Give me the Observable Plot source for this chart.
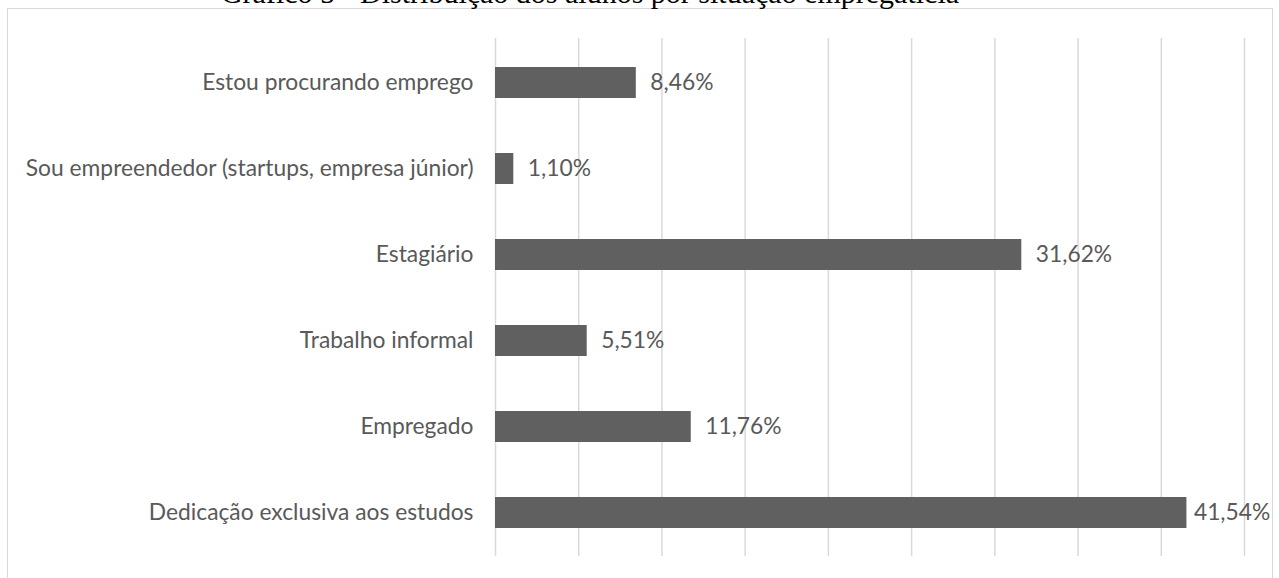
<!DOCTYPE html>
<html>
<head>
<meta charset="utf-8">
<script src="https://cdn.jsdelivr.net/npm/d3@7"></script>
<script src="https://cdn.jsdelivr.net/npm/@observablehq/plot@0.6"></script>
<style>
  html, body { margin: 0; padding: 0; background: #fff; }
  #wrap { position: relative; width: 1279px; height: 578px; overflow: hidden; }
  #frame { position: absolute; left: 7px; top: 8px; width: 1266px; height: 600px; border: 1.5px solid #d9d9d9; box-sizing: border-box; }
  #title { position: absolute; left: 0; width: 1180px; text-align: center; top: -22px; font-family: "Liberation Serif", serif; font-size: 30px; line-height: 30px; color: #000; white-space: nowrap; }
  #chart { position: absolute; left: 0; top: 0; }
</style>
</head>
<body>
<div id="wrap">
  <div id="frame"></div>
  <div id="title">Gráfico 5 - Distribuição dos alunos por situação empregatícia</div>
  <div id="chart"></div>
</div>
<script>
const categories = [
  "Estou procurando emprego",
  "Sou empreendedor (startups, empresa júnior)",
  "Estagiário",
  "Trabalho informal",
  "Empregado",
  "Dedicação exclusiva aos estudos"
];
const values = [8.46, 1.10, 31.62, 5.51, 11.76, 41.54];
const valueLabels = ["8,46%", "1,10%", "31,62%", "5,51%", "11,76%", "41,54%"];
const xTicks = [0, 5, 10, 15, 20, 25, 30, 35, 40, 45];

const data = categories.map((c, i) => ({cat: c, v: values[i], label: valueLabels[i]}));
const xMax = 45;

const font = "Lato, 'Open Sans', sans-serif";
const fs = 22.8;
const chart = Plot.plot({
  width: 1279,
  height: 578,
  marginLeft: 495,
  marginRight: 35,
  marginTop: 38,
  marginBottom: 22,
  style: { fontFamily: font, fontSize: fs + "px", color: "#595959", background: "transparent" },
  x: { domain: [0, xMax], axis: null },
  y: { domain: categories, paddingInner: 0.64, paddingOuter: 0.32, label: null },
  marks: [
    Plot.ruleX(xTicks, { stroke: "#d9d9d9", strokeWidth: 1.5 }),
    Plot.barX(data, { y: "cat", x: "v", fill: "#606060" }),
    Plot.text(data, { filter: d => d.v < 40, y: "cat", x: "v", text: "label", textAnchor: "start", dx: 14, fill: "#595959", fontSize: fs }),
    Plot.text(data, { filter: d => d.v >= 40, y: "cat", x: "v", text: "label", textAnchor: "start", dx: 7, fill: "#595959", fontSize: fs }),
    Plot.axisY({ tickSize: 0, tickPadding: 22, label: null, fontSize: fs, fill: "#595959" })
  ]
});
document.getElementById("chart").appendChild(chart);
</script>
</body>
</html>
